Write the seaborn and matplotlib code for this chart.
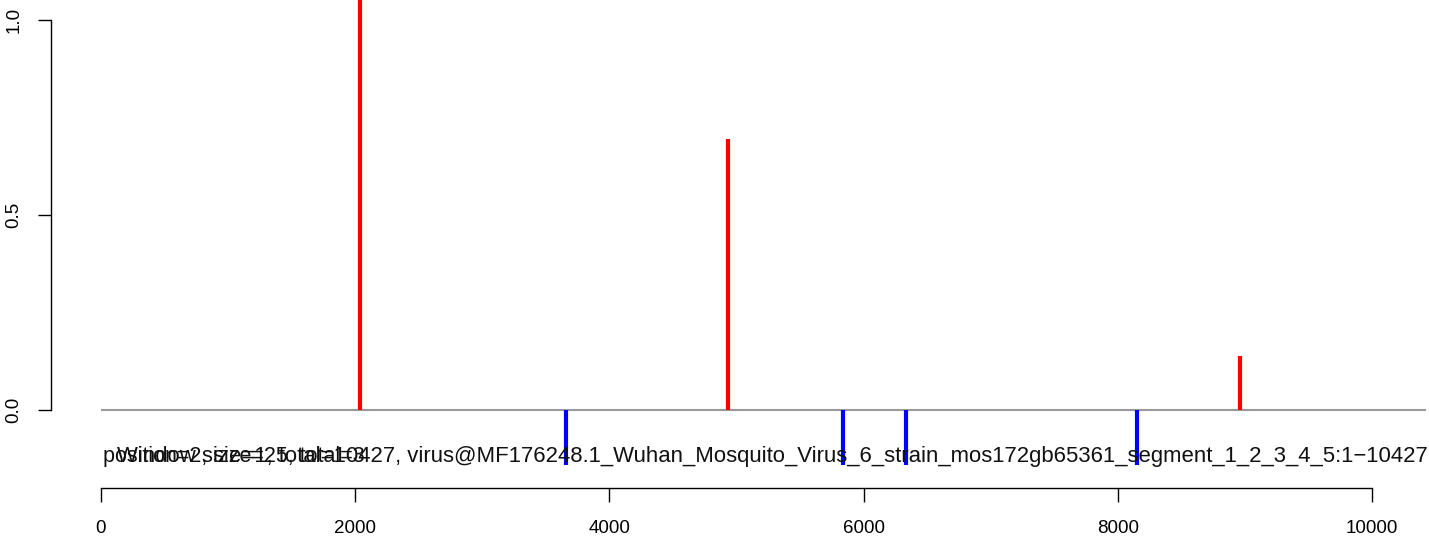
import matplotlib
matplotlib.use("Agg")
import matplotlib.pyplot as plt
import pandas as pd
import seaborn as sns

# positions along the genome and their heights
plus_pos = [2038, 4933, 8961]
plus_val = [1.10, 0.695, 0.138]
minus_pos = [3659, 5838, 6334, 8151]
minus_val = [-0.14, -0.14, -0.14, -0.14]
genome_len = 10427

x_ticks = [0, 2000, 4000, 6000, 8000, 10000]
y_ticks = [0.0, 0.5, 1.0]

label_a = "position=2, size=25, total=3"
label_b = ("Window size=1, total=10427, virus@MF176248.1_Wuhan_Mosquito_Virus_6_"
           "strain_mos172gb65361_segment_1_2_3_4_5:1\u221210427")

sns.set_theme(style="white")
plt.rcParams['font.family'] = ['Liberation Sans', 'DejaVu Sans']

df = pd.DataFrame({
    "pos": plus_pos + minus_pos,
    "val": plus_val + minus_val,
    "strand": ["+"] * len(plus_pos) + ["-"] * len(minus_pos),
})

fig = plt.figure(figsize=(14.29, 5.37), dpi=100)
ax = fig.add_axes([51 / 1429, 49 / 537, 1 - 51 / 1429, 1 - 49 / 537])

ax.hlines(0, 1, genome_len, color="#9a9a9a", lw=1.5, zorder=1)
colors = {"+": "#FF0000", "-": "#0000FF"}
for strand, sub in df.groupby("strand"):
    ax.vlines(sub["pos"], 0, sub["val"], color=colors[strand], lw=3.0,
              zorder=2)

ax.set_xlim(-393, 10448)
ax.set_ylim(-0.2, 1.051)

sns.despine(ax=ax, top=True, right=True)
ax.spines["left"].set_bounds(0, 1)
ax.spines["bottom"].set_bounds(0, 10000)
for sp in ("left", "bottom"):
    ax.spines[sp].set_color("black")
    ax.spines[sp].set_linewidth(1.0)

ax.set_xticks(x_ticks)
ax.set_xticklabels([str(t) for t in x_ticks])
ax.set_yticks(y_ticks)
ax.set_yticklabels([f"{t:.1f}" for t in y_ticks], rotation=90, va="center")
ax.tick_params(axis="x", direction="out", length=10, width=1.0, pad=13,
               labelsize=13.5, colors="black", bottom=True)
ax.tick_params(axis="y", direction="out", length=9.5, width=1.0, pad=11,
               labelsize=13.5, colors="black", left=True)

ax.text(15, -0.12, label_a, fontsize=15.5, ha="left", va="center",
        color="#111111", zorder=3)
ax.text(10435, -0.12, label_b, fontsize=15.9, ha="right", va="center",
        color="#111111", zorder=3)

fig.savefig("out.png", dpi=100)
